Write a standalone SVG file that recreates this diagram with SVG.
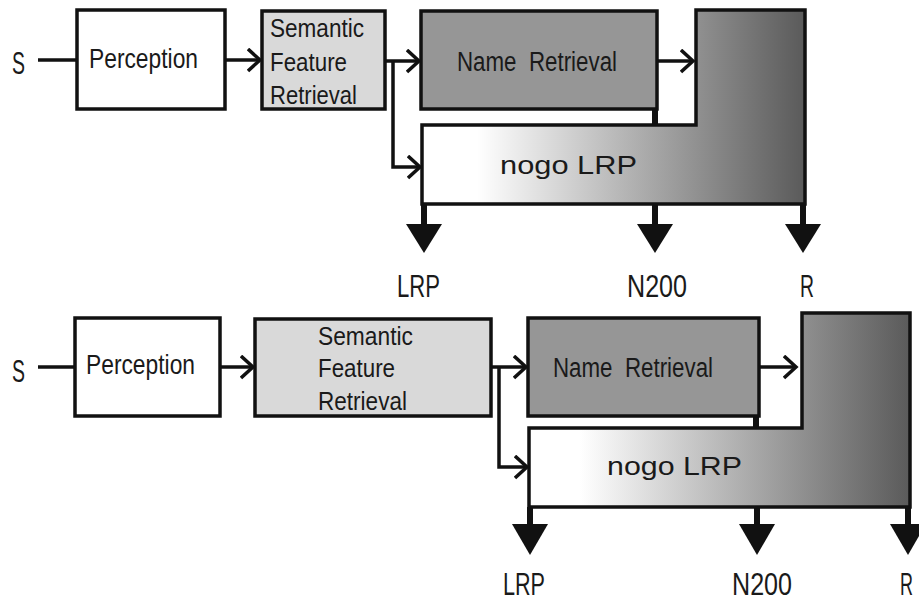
<svg xmlns="http://www.w3.org/2000/svg" width="919" height="602" viewBox="0 0 919 602">
<style>
text{font-family:"Liberation Sans",Arial,sans-serif;fill:#1a1a1a;white-space:pre}
.box{stroke:#111;stroke-width:3.5}
.white{fill:#fff}
.light{fill:#d9d9d9}
.mid{fill:#969696}
.con{fill:none;stroke:#111;stroke-width:3.5}
.thick{fill:none;stroke:#111;stroke-width:6}
.tri{fill:#111}
.per{font-size:28px}
.sem{font-size:26px}
.nam{font-size:27px}
.nogo{font-size:26px}
.lbl{font-size:32px}
.s{font-size:31px}
</style>
<defs>
<marker id="chev" markerUnits="userSpaceOnUse" markerWidth="16" markerHeight="26" refX="13" refY="12" orient="auto">
<path d="M1,1 L13,12 L1,23" fill="none" stroke="#111" stroke-width="3.5"/>
</marker>
<linearGradient id="g1" gradientUnits="userSpaceOnUse" x1="477" y1="0" x2="805" y2="0">
<stop offset="0" stop-color="#ffffff"/>
<stop offset="1" stop-color="#5a5a5a"/>
</linearGradient>
<linearGradient id="g2" gradientUnits="userSpaceOnUse" x1="580" y1="0" x2="910" y2="0">
<stop offset="0" stop-color="#ffffff"/>
<stop offset="1" stop-color="#5a5a5a"/>
</linearGradient>
</defs>

<g id="connectors">
<line class="con" x1="38" y1="60" x2="77" y2="60"/>
<line class="con" x1="226" y1="60" x2="260" y2="60" marker-end="url(#chev)"/>
<line class="con" x1="386" y1="61" x2="419" y2="61" marker-end="url(#chev)"/>
<polyline class="con" points="393,61 393,167 420,167" marker-end="url(#chev)"/>
<line class="con" x1="657" y1="61" x2="693" y2="61" marker-end="url(#chev)"/>
<line class="thick" x1="655" y1="109" x2="655" y2="125"/>
<line class="thick" x1="424" y1="205" x2="424" y2="226"/>
<polygon class="tri" points="406,224 442,224 424,253"/>
<line class="thick" x1="655" y1="205" x2="655" y2="226"/>
<polygon class="tri" points="637,224 673,224 655,253"/>
<line class="thick" x1="803" y1="205" x2="803" y2="226"/>
<polygon class="tri" points="785,224 821,224 803,253"/>
<line class="con" x1="38" y1="367" x2="74" y2="367"/>
<line class="con" x1="220" y1="367" x2="253" y2="367" marker-end="url(#chev)"/>
<line class="con" x1="492" y1="367" x2="526" y2="367" marker-end="url(#chev)"/>
<polyline class="con" points="499,367 499,467 527,467" marker-end="url(#chev)"/>
<line class="con" x1="759" y1="367" x2="796" y2="367" marker-end="url(#chev)"/>
<line class="thick" x1="756" y1="416" x2="756" y2="428"/>
<line class="thick" x1="530" y1="507" x2="530" y2="526"/>
<polygon class="tri" points="512,524 548,524 530,555"/>
<line class="thick" x1="757" y1="507" x2="757" y2="526"/>
<polygon class="tri" points="739,524 775,524 757,555"/>
<line class="thick" x1="908" y1="507" x2="908" y2="526"/>
<polygon class="tri" points="890,524 926,524 908,555"/>
</g>

<g id="top-S"><text class="s" x="12" y="74" textLength="13" lengthAdjust="spacingAndGlyphs">S</text></g>
<g id="top-perception">
<rect class="box white" x="77" y="10" width="148" height="99"/>
<text class="per" x="89" y="68" textLength="109" lengthAdjust="spacingAndGlyphs">Perception</text>
</g>
<g id="top-semantic">
<rect class="box light" x="262" y="11" width="123" height="98"/>
<text class="sem" x="270" y="37" textLength="94" lengthAdjust="spacingAndGlyphs">Semantic</text>
<text class="sem" x="270" y="71" textLength="77" lengthAdjust="spacingAndGlyphs">Feature</text>
<text class="sem" x="270" y="104" textLength="87" lengthAdjust="spacingAndGlyphs">Retrieval</text>
</g>
<g id="top-name">
<rect class="box mid" x="421" y="11" width="236" height="98"/>
<text class="nam" x="457" y="71" textLength="160" lengthAdjust="spacingAndGlyphs">Name  Retrieval</text>
</g>
<g id="top-nogo">
<polygon class="box" fill="url(#g1)" points="422,125 696,125 696,10 805,10 805,204 422,204"/>
<text class="nogo" x="500" y="174" textLength="137" lengthAdjust="spacingAndGlyphs">nogo LRP</text>
</g>
<g id="top-labels">
<text class="lbl" x="397" y="297" textLength="43" lengthAdjust="spacingAndGlyphs">LRP</text>
<text class="lbl" x="627" y="297" textLength="60" lengthAdjust="spacingAndGlyphs">N200</text>
<text class="lbl" x="800" y="297" textLength="14" lengthAdjust="spacingAndGlyphs">R</text>
</g>

<g id="bottom-S"><text class="s" x="12" y="382" textLength="13" lengthAdjust="spacingAndGlyphs">S</text></g>
<g id="bottom-perception">
<rect class="box white" x="75" y="318" width="145" height="98"/>
<text class="per" x="86" y="374" textLength="109" lengthAdjust="spacingAndGlyphs">Perception</text>
</g>
<g id="bottom-semantic">
<rect class="box light" x="255" y="319" width="236" height="97"/>
<text class="sem" x="318" y="345" textLength="95" lengthAdjust="spacingAndGlyphs">Semantic</text>
<text class="sem" x="318" y="377" textLength="77" lengthAdjust="spacingAndGlyphs">Feature</text>
<text class="sem" x="318" y="410" textLength="89" lengthAdjust="spacingAndGlyphs">Retrieval</text>
</g>
<g id="bottom-name">
<rect class="box mid" x="528" y="318" width="231" height="98"/>
<text class="nam" x="553" y="377" textLength="160" lengthAdjust="spacingAndGlyphs">Name  Retrieval</text>
</g>
<g id="bottom-nogo">
<polygon class="box" fill="url(#g2)" points="529,428 802,428 802,313 910,313 910,507 529,507"/>
<text class="nogo" x="607" y="475" textLength="135" lengthAdjust="spacingAndGlyphs">nogo LRP</text>
</g>
<g id="bottom-labels">
<text class="lbl" x="503" y="595" textLength="42" lengthAdjust="spacingAndGlyphs">LRP</text>
<text class="lbl" x="732" y="595" textLength="60" lengthAdjust="spacingAndGlyphs">N200</text>
<text class="lbl" x="900" y="595" textLength="13" lengthAdjust="spacingAndGlyphs">R</text>
</g>
</svg>
